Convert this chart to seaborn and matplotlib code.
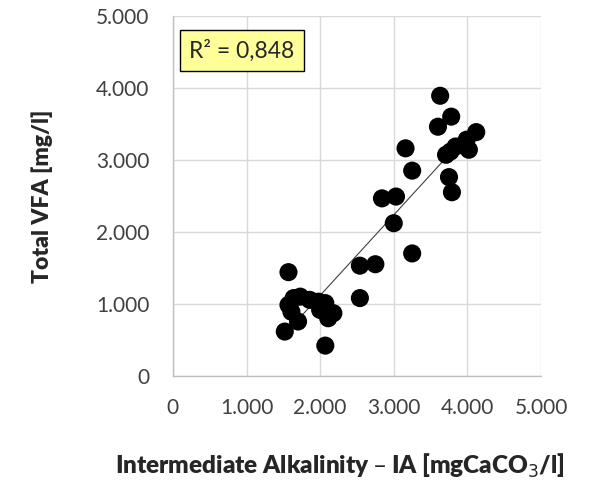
import matplotlib
matplotlib.use("Agg")
import matplotlib.pyplot as plt
import matplotlib.ticker as mticker
import numpy as np
import pandas as pd
import seaborn as sns

# Intermediate alkalinity (mgCaCO3/l) vs total VFA (mg/l)
ia = [3630, 3780, 3600, 4120, 3990, 4020, 3840, 3710, 3770, 3160,
      3250, 3750, 3790, 2840, 3030, 3000, 3250, 2540, 2750, 2540,
      1570, 1520, 2070, 1640, 1730, 1570, 1610, 1700, 1860, 1980,
      2070, 2000, 2090, 2180, 2110]
vfa = [3890, 3600, 3460, 3385, 3280, 3140, 3185, 3070, 3115, 3160,
       2850, 2760, 2550, 2465, 2490, 2120, 1700, 1530, 1550, 1080,
       1440, 615, 420, 1080, 1100, 985, 890, 755, 1055, 1030,
       1010, 915, 870, 870, 800]
r2_label = "R² = 0,848"

df = pd.DataFrame({"IA": ia, "VFA": vfa})

sns.set_theme(style="white")
plt.rcParams['font.family'] = ['Lato', 'DejaVu Sans']

fig = plt.figure(figsize=(5.9, 4.8), dpi=100)
ax = fig.add_axes([0.293, 0.217, 0.624, 0.75])

sns.regplot(data=df, x="IA", y="VFA", ax=ax, ci=None, scatter=False,
            line_kws={"color": "#404040", "lw": 0.8})
sns.scatterplot(data=df, x="IA", y="VFA", ax=ax, color="black", s=170,
                edgecolor="none", zorder=3)

ax.set_xlim(0, 5000)
ax.set_ylim(0, 5000)
ticks = [0, 1000, 2000, 3000, 4000, 5000]
ax.set_xticks(ticks)
ax.set_yticks(ticks)
fmt = mticker.FuncFormatter(lambda v, p: f"{int(v):,}".replace(",", "."))
ax.xaxis.set_major_formatter(fmt)
ax.yaxis.set_major_formatter(fmt)
ax.grid(True, color="#d9d9d9", lw=1)
ax.set_axisbelow(True)
ax.tick_params(axis="y", length=0, labelsize=15, colors="#404040", pad=17)
ax.tick_params(axis="x", length=0, labelsize=15, colors="#404040", pad=16)
for side in ["top", "right"]:
    ax.spines[side].set_visible(False)
for side in ["left", "bottom"]:
    ax.spines[side].set_color("#bfbfbf")
    ax.spines[side].set_linewidth(1)

ax.set_xlabel("Intermediate Alkalinity – IA [mgCaCO$_3$/l]", fontsize=17.5,
              fontweight="heavy", va="center")
ax.xaxis.set_label_coords(0.454, -0.25)
ax.set_ylabel("Total VFA [mg/l]", fontsize=16.5, fontweight="heavy", va="center")
ax.yaxis.set_label_coords(-0.356, 0.5)

ax.text(0.045, 0.904, r2_label, transform=ax.transAxes, fontsize=16.5,
        va="center", ha="left",
        bbox=dict(boxstyle="square,pad=0.42", facecolor="#ffff99",
                  edgecolor="black", lw=1))

fig.savefig("out.png", dpi=100)
